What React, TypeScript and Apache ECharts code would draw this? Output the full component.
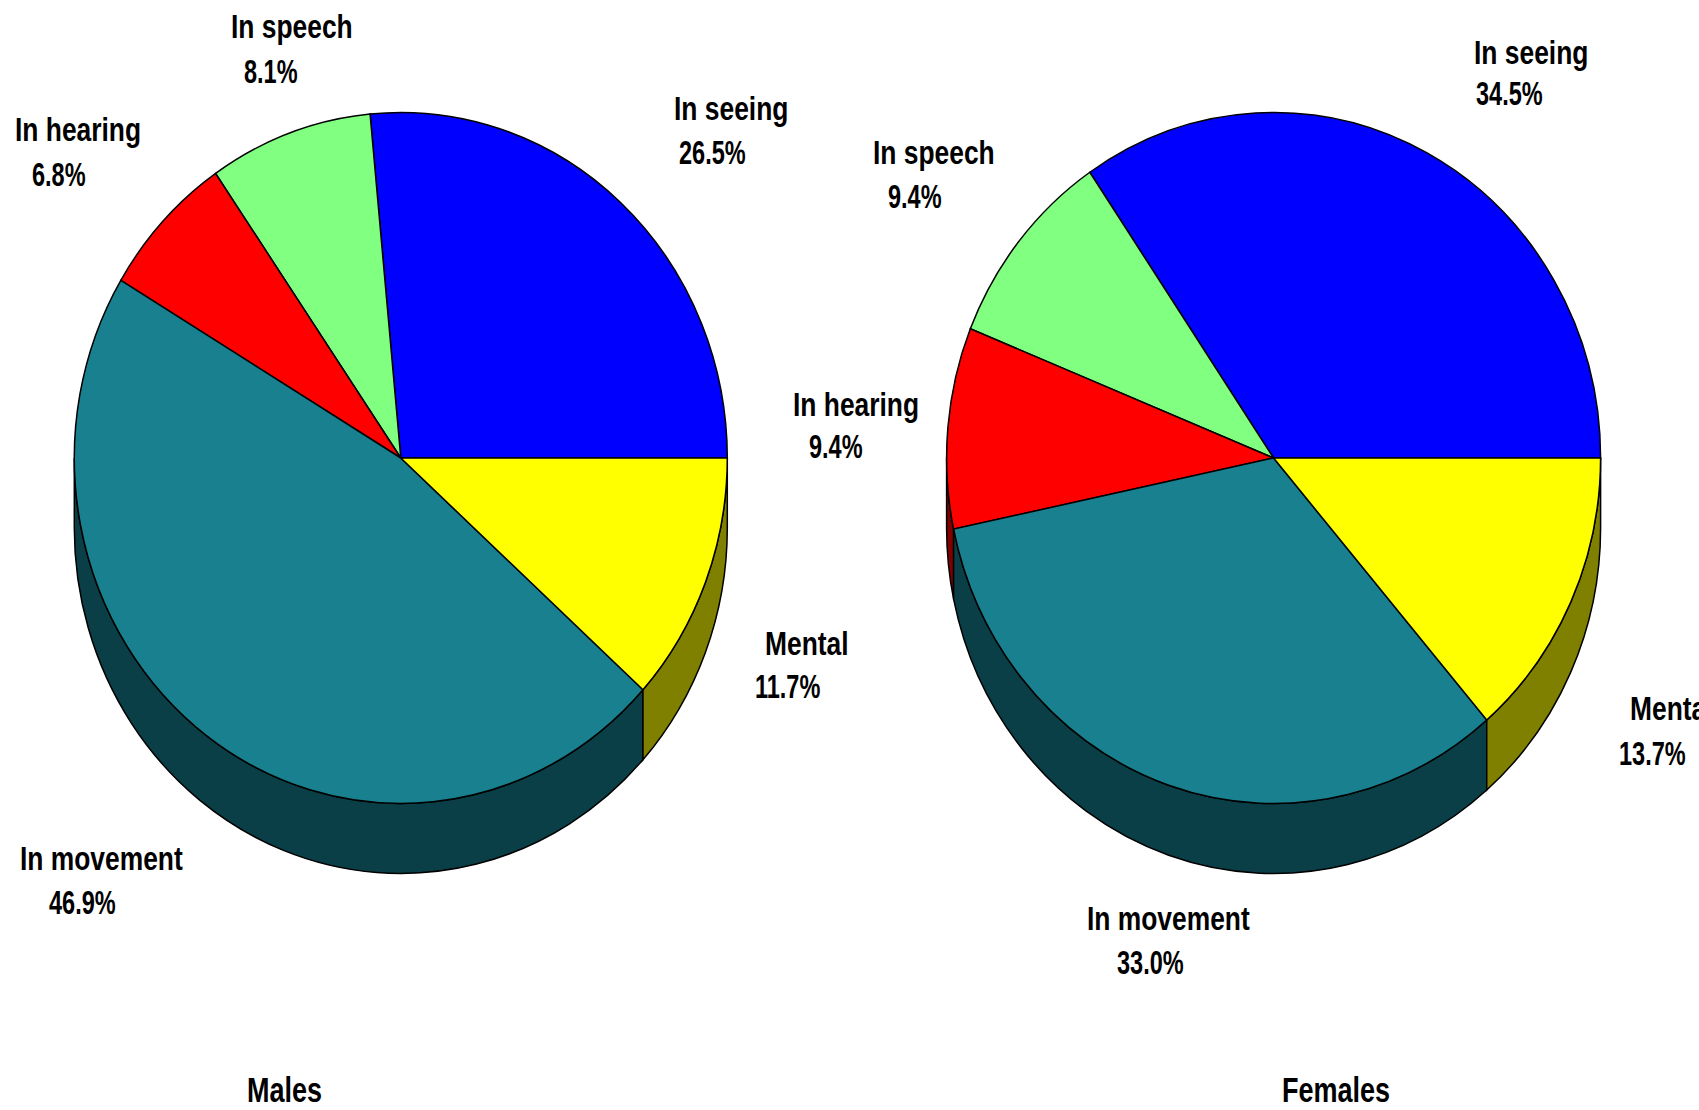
import React, { useEffect, useRef } from "react";
import * as echarts from "echarts";

const categories = ["In seeing", "In speech", "In hearing", "In movement", "Mental"];
const malesValues = [26.5, 8.1, 6.8, 46.9, 11.7];
const femalesValues = [34.5, 9.4, 9.4, 33.0, 13.7];
const topColors = ["#0000FF", "#80FF80", "#FF0000", "#18808E", "#FFFF00"];
const sideColors = ["#000080", "#408040", "#800000", "#0B3F47", "#808000"];

// Layout only: [name x, name baseline, value x, value baseline] per category
const malesLabelLayout = [
  [674, 120, 679, 164],
  [231, 38, 244, 83],
  [15, 141, 32, 186],
  [20, 870, 49, 914],
  [765, 655, 755, 698],
];
const femalesLabelLayout = [
  [1474, 64, 1476, 105],
  [873, 164, 888, 208],
  [793, 416, 809, 458],
  [1087, 930, 1117, 974],
  [1630, 720, 1619, 765],
];
const malesGeometry = { cx: 400.8, cy: 458, rx: 326.5, ry: 345.5, depth: 70 };
const femalesGeometry = { cx: 1273.6, cy: 458, rx: 327, ry: 345.5, depth: 70 };

const FONT = '"Liberation Sans", Arial, sans-serif';
const NAME_SIZE = 26.4;
const NAME_SCALE_Y = 1.26;
const VALUE_SIZE = 23.5;
const VALUE_SCALE_Y = 1.42;
const TITLE_SIZE = 27;
const TITLE_SCALE_Y = 1.3;

type Geo = typeof malesGeometry;

const textEl = (text: string, x: number, baseline: number, size: number, scaleY: number) => ({
  type: "text",
  x,
  y: baseline - 0.3465 * size * scaleY,
  scaleY,
  silent: true,
  style: {
    text,
    x: 0,
    y: 0,
    fill: "#000000",
    font: `bold ${size}px ${FONT}`,
    align: "left",
    verticalAlign: "middle",
  },
});

function angleRange(values: number[], i: number): [number, number] {
  const total = values.reduce((a, b) => a + b, 0);
  let before = 0;
  for (let k = 0; k < i; k++) before += values[k];
  return [(before / total) * 360, ((before + values[i]) / total) * 360];
}

function pointAt(g: Geo, deg: number, dy = 0) {
  const r = (deg * Math.PI) / 180;
  return [g.cx + g.rx * Math.cos(r), g.cy - g.ry * Math.sin(r) + dy];
}

function topPath(g: Geo, a0: number, a1: number) {
  const p0 = pointAt(g, a0);
  const p1 = pointAt(g, a1);
  const large = a1 - a0 > 180 ? 1 : 0;
  return `M${g.cx} ${g.cy}L${p0[0]} ${p0[1]}A${g.rx} ${g.ry} 0 ${large} 0 ${p1[0]} ${p1[1]}Z`;
}

function sidePath(g: Geo, a0: number, a1: number) {
  const s = Math.max(a0, 180);
  const e = Math.min(a1, 360);
  if (e <= s) return null;
  const p0 = pointAt(g, s);
  const p1 = pointAt(g, e);
  const q1 = pointAt(g, e, g.depth);
  const q0 = pointAt(g, s, g.depth);
  return (
    `M${p0[0]} ${p0[1]}A${g.rx} ${g.ry} 0 0 0 ${p1[0]} ${p1[1]}` +
    `L${q1[0]} ${q1[1]}A${g.rx} ${g.ry} 0 0 1 ${q0[0]} ${q0[1]}Z`
  );
}

function pieSeries(name: string, values: number[], g: Geo, layout: number[][]) {
  const data = values.map((v, i) => ({ name: categories[i], value: v }));
  return [
    {
      type: "custom",
      name: name + " side",
      coordinateSystem: "none",
      silent: true,
      z: 1,
      data,
      renderItem: (params: any) => {
        const i = params.dataIndex;
        const [a0, a1] = angleRange(values, i);
        const d = sidePath(g, a0, a1);
        if (!d) return { type: "group", children: [] };
        return {
          type: "path",
          shape: { pathData: d },
          style: { fill: sideColors[i], stroke: "#000000", lineWidth: 1.5 },
        };
      },
    },
    {
      type: "custom",
      name,
      coordinateSystem: "none",
      silent: true,
      z: 2,
      data,
      renderItem: (params: any, api: any) => {
        const i = params.dataIndex;
        const [a0, a1] = angleRange(values, i);
        const l = layout[i];
        return {
          type: "group",
          children: [
            {
              type: "path",
              shape: { pathData: topPath(g, a0, a1) },
              style: { fill: topColors[i], stroke: "#000000", lineWidth: 1.5 },
            },
            textEl(categories[i], l[0], l[1], NAME_SIZE, NAME_SCALE_Y),
            textEl(`${Number(api.value(0)).toFixed(1)}%`, l[2], l[3], VALUE_SIZE, VALUE_SCALE_Y),
          ],
        };
      },
    },
  ];
}

export default function App() {
  const ref = useRef<HTMLDivElement | null>(null);
  useEffect(() => {
    document.body.style.margin = "0";
    document.body.style.overflow = "hidden";
    document.body.style.background = "#ffffff";
    const chart = echarts.init(ref.current!, null, { renderer: "svg" });
    chart.setOption({
      animation: false,
      backgroundColor: "#ffffff",
      tooltip: { show: false },
      graphic: [
        { ...textEl("Males", 247, 1102, TITLE_SIZE, TITLE_SCALE_Y), z: 10 },
        { ...textEl("Females", 1282, 1102, TITLE_SIZE, TITLE_SCALE_Y), z: 10 },
      ],
      series: [
        ...pieSeries("Males", malesValues, malesGeometry, malesLabelLayout),
        ...pieSeries("Females", femalesValues, femalesGeometry, femalesLabelLayout),
      ],
    });
    return () => chart.dispose();
  }, []);
  return (
    <div
      ref={ref}
      style={{ position: "fixed", left: 0, top: 0, width: 1699, height: 1110, overflow: "hidden" }}
    />
  );
}
